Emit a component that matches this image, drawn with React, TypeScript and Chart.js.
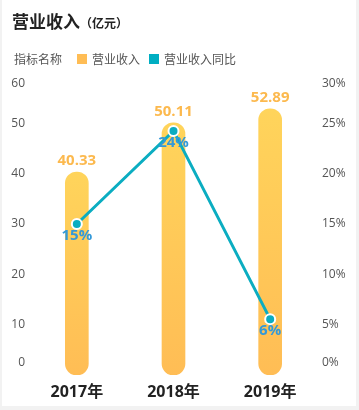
import React, { useEffect, useRef } from "react";
import { Chart, registerables } from "chart.js";

Chart.register(...registerables);

const categories = ["2017年", "2018年", "2019年"];
const revenue = [40.33, 50.11, 52.89];
const revenueYoY = [15.0, 24.25, 5.55];
const leftTicks = [0, 10, 20, 30, 40, 50, 60];
const rightTicks = [0, 5, 10, 15, 20, 25, 30];

const FONT = '"Open Sans", "Noto Sans CJK SC", sans-serif';

export default function App() {
  const ref = useRef<HTMLCanvasElement | null>(null);

  useEffect(() => {
    if (!ref.current) return;

    const labelPlugin = {
      id: "customLabels",
      afterDatasetsDraw(chart: any) {
        const ctx = chart.ctx;
        const area = chart.chartArea;
        const yL = chart.scales.y;
        const yR = chart.scales.y1;
        ctx.save();
        ctx.font = `12px ${FONT}`;
        ctx.fillStyle = "#555";
        ctx.textBaseline = "middle";
        const clampY = (p: number) => Math.min(Math.max(p, area.top + 11), area.bottom - 12);
        ctx.textAlign = "right";
        leftTicks.forEach((t) => ctx.fillText(String(t), 25, clampY(yL.getPixelForValue(t))));
        ctx.textAlign = "left";
        rightTicks.forEach((t) => ctx.fillText(t + "%", 322, clampY(yR.getPixelForValue(t))));

        const barMeta = chart.getDatasetMeta(1);
        ctx.font = `bold 15px ${FONT}`;
        ctx.fillStyle = "#fcb94e";
        ctx.textAlign = "center";
        barMeta.data.forEach((el: any, i: number) => {
          ctx.fillText(revenue[i].toFixed(2), el.x, el.y - 11);
        });
        const lineMeta = chart.getDatasetMeta(0);
        ctx.fillStyle = "#3399d9";
        lineMeta.data.forEach((el: any, i: number) => {
          ctx.fillText(Math.round(revenueYoY[i]) + "%", el.x, el.y + 12);
        });
        ctx.restore();
      },
    };

    const chart = new Chart(ref.current, {
      type: "bar",
      data: {
        labels: categories,
        datasets: [
          {
            type: "line",
            label: "营业收入同比",
            data: revenueYoY,
            yAxisID: "y1",
            borderColor: "#0badc1",
            borderWidth: 3,
            pointBackgroundColor: "#0badc1",
            pointBorderColor: "#ffffff",
            pointBorderWidth: 2,
            pointRadius: 5,
            tension: 0,
            order: 0,
          } as any,
          {
            type: "bar",
            label: "营业收入",
            data: revenue,
            yAxisID: "y",
            barThickness: 23,
            borderRadius: 12,
            borderSkipped: false,
            order: 1,
            backgroundColor: (c: any) => {
              const chart = c.chart;
              const area = chart.chartArea;
              if (!area || c.raw == null) return "#ffc857";
              const top = chart.scales.y.getPixelForValue(c.raw);
              const g = chart.ctx.createLinearGradient(0, top, 0, area.bottom);
              g.addColorStop(0, "#ffd45b");
              g.addColorStop(1, "#ffbd55");
              return g;
            },
          },
        ],
      },
      options: {
        animation: false,
        responsive: false,
        maintainAspectRatio: false,
        layout: { padding: { left: 0, right: 0, top: 73, bottom: 0 } },
        plugins: { legend: { display: false }, tooltip: { enabled: false }, title: { display: false } },
        scales: {
          x: {
            grid: { display: false },
            border: { display: false },
            ticks: { font: { family: FONT, size: 16, weight: "bold" }, color: "#222", padding: 0 },
            afterFit: (s: any) => {
              s.height = 35;
            },
          },
          y: {
            position: "left",
            min: 0,
            max: 60,
            ticks: { display: false, stepSize: 10 },
            grid: { display: false },
            border: { display: false },
            afterFit: (s: any) => {
              s.width = 28.5;
            },
          },
          y1: {
            position: "right",
            min: 0,
            max: 30,
            ticks: { display: false, stepSize: 5 },
            grid: { display: false },
            border: { display: false },
            afterFit: (s: any) => {
              s.width = 40.5;
            },
          },
        },
      },
      plugins: [labelPlugin],
    } as any);

    return () => chart.destroy();
  }, []);

  const sq = (color: string) => ({
    display: "inline-block",
    width: 10,
    height: 10,
    background: color,
    marginRight: 5,
    verticalAlign: "middle",
  });

  return (
    <div style={{ position: "fixed", left: 0, top: 0, width: 359, height: 410, background: "#f2f2f2", overflow: "hidden" }}>
      <div style={{ position: "absolute", left: 2, top: 0, width: 354, height: 406, background: "#fff" }} />
      <canvas ref={ref} width={359} height={410} style={{ position: "absolute", left: 0, top: 0, width: 359, height: 410 }} />
      <div
        style={{
          position: "absolute",
          left: 12,
          top: 9,
          fontFamily: '"Noto Sans CJK SC", sans-serif',
          fontWeight: "bold",
          fontSize: 17,
          color: "#222",
          lineHeight: "24px",
          whiteSpace: "nowrap",
        }}
      >
        营业收入<span style={{ fontSize: 12 }}>（亿元）</span>
      </div>
      <div
        style={{
          position: "absolute",
          left: 14,
          top: 48,
          fontFamily: '"Noto Sans CJK SC", sans-serif',
          fontSize: 12,
          color: "#555",
          lineHeight: "18px",
          whiteSpace: "nowrap",
        }}
      >
        <span style={{ verticalAlign: "middle", marginRight: 15 }}>指标名称</span>
        <span style={sq("#ffbd55")} />
        <span style={{ verticalAlign: "middle", marginRight: 9 }}>营业收入</span>
        <span style={sq("#00aec2")} />
        <span style={{ verticalAlign: "middle" }}>营业收入同比</span>
      </div>
    </div>
  );
}
